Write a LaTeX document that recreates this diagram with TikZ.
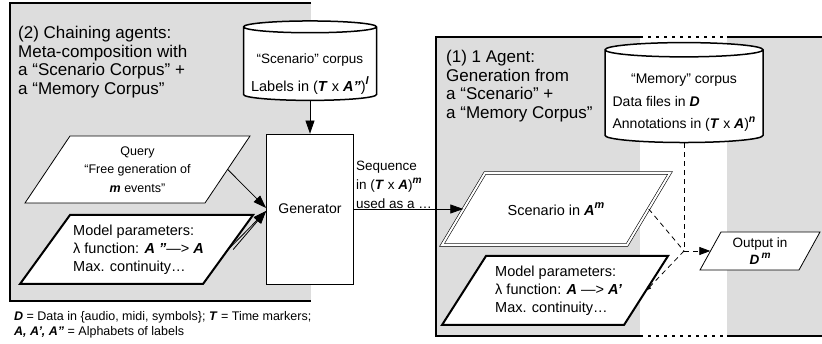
\documentclass[tikz,border=0pt]{standalone}
\usepackage{fontspec}
\setmainfont{Liberation Sans}
\usetikzlibrary{shapes.geometric,arrows.meta}
\definecolor{panelgray}{RGB}{221,221,221}
\newcommand{\bi}[1]{\textbf{\textit{#1}}}
\newcommand{\expo}[1]{\raisebox{0.45em}{\scalebox{0.75}{\bi{#1}}}}
\newcommand{\fs}[2]{\fontsize{#1}{#2}\selectfont}

\begin{document}
\begin{tikzpicture}[x=1pt, y=-1pt,
  every node/.style={inner sep=0pt},
  box/.style={align=center},
  corpus/.style={cylinder, shape border rotate=90, aspect=0.1, draw, line width=1.5pt,
    fill=white, align=center},
  flow/.style={-{Triangle[length=13pt,width=9pt]}, line width=0.8pt},
  link/.style={dash pattern=on 5pt off 4pt, line width=0.8pt}]
  \useasboundingbox (0,0) rectangle (822,344);
  % panels
  \fill[panelgray] (10,3) rectangle (311,301);
  \draw[line width=1.8pt] (311,3) -- (10,3) -- (10,301) -- (311,301);
  \fill[panelgray] (436,37) rectangle (822,336);
  \fill[white] (640,37) rectangle (727,336);
  \draw[line width=1.8pt] (640,37) -- (436,37) -- (436,336) -- (640,336);
  \draw[line width=1.8pt] (727,37) -- (822,37) (727,336) -- (822,336);
  \draw[line width=1.8pt, dash pattern=on 3pt off 5pt] (640,37) -- (727,37) (640,336) -- (727,336);

  % (2) chaining agents
  \node[anchor=north west, align=left, font=\fs{17}{18.7}] (title2) at (18,26)
    {(2) Chaining agents:\\Meta-composition with\\a “Scenario Corpus” +\\a “Memory Corpus”};
  \node[corpus, minimum width=133pt, minimum height=79pt, font=\fs{13.5}{28}] (scorpus) at (310,64)
    {\rule{0pt}{30pt}“Scenario” corpus\\{\fs{14.5}{28}Labels in (\bi{T} x \bi{A”})\expo{l}}};
  \node[draw, fill=white, line width=0.8pt, minimum width=87pt, minimum height=150pt,
    font=\fs{14}{17}] (gen) at (310,209) {Generator};
  \draw[line width=0.8pt, fill=white] (25,203) -- (70,136) -- (250,136) -- (205,203) -- cycle;
  \node[box, minimum width=180pt, minimum height=67pt, font=\fs{12.5}{18.5}] (query) at (137.5,169.5)
    {Query\\“Free generation of\\\bi{m} events"};
  \draw[line width=2pt, fill=white] (20,284) -- (70,215) -- (253,215) -- (203,284) -- cycle;
  \node[minimum width=183pt, minimum height=69pt] (modelB) at (136.5,249.5) {};
  \node[anchor=west, align=left, font=\fs{14.5}{18}] (modelBtext) at (73,249.5)
    {Model parameters:\\λ function: \bi{A ”}—> \bi{A}\\Max. continuity…};
  \node[anchor=south west, align=left, font=\fs{13.5}{19}] (seq) at ([xshift=2pt]gen.east)
    {Sequence\\in (\bi{T} x \bi{A})\expo{m}\\used as a …};

  % (1) one agent
  \node[anchor=north west, align=left, font=\fs{17}{18.7}] (title1) at (446,50)
    {(1) 1 Agent:\\Generation from\\a “Scenario” +\\a “Memory Corpus”};
  \node[corpus, minimum width=158pt, minimum height=83pt, font=\fs{14}{22.5}] (mcorpus) at (684,96.5)
    {\begin{tabular}{@{}l@{}}\multicolumn{1}{@{}c@{}}{\rule{0pt}{26pt}“Memory” corpus}\\Data files in \bi{D}\\
     Annotations in (\bi{T} x \bi{A})\expo{n}\end{tabular}};
  \draw[double, double distance=2pt, line width=0.6pt, fill=white]
    (442,245) -- (485,173) -- (670,173) -- (627,245) -- cycle;
  \node[box, minimum width=185pt, minimum height=72pt, font=\fs{14.5}{18}] (scen) at (556,209)
    {Scenario in \bi{A}\expo{m}};
  \draw[line width=2pt, fill=white] (442,325) -- (486,256) -- (668,256) -- (624,325) -- cycle;
  \node[minimum width=182pt, minimum height=69pt] (modelA) at (555,290.5) {};
  \node[anchor=west, align=left, font=\fs{14.5}{18}] (modelAtext) at (495,290.5)
    {Model parameters:\\λ function: \bi{A} —> \bi{A’}\\Max. continuity…};
  \draw[line width=0.8pt, fill=white] (700,270) -- (721,232) -- (820,232) -- (799,270) -- cycle;
  \node[box, minimum width=99pt, minimum height=38pt, font=\fs{13.5}{17}] (output) at (760,251)
    {Output in\\\bi{D}\,\expo{m}};

  \node[anchor=north west, align=left, font=\fs{12.5}{15}] (legend) at (14,311)
    {\bi{D} = Data in \{audio, midi, symbols\}; \bi{T} = Time markers;\\\bi{A, A’, A”} = Alphabets of labels};

  \coordinate (genq) at ([yshift=1pt]gen.west);
  \coordinate (genm) at ([yshift=-2pt]gen.west);
  \coordinate (jn) at (mcorpus.south |- output.west);

  \draw[flow] (scorpus.south) -- (gen.north);
  \draw[flow] (query.east) -- (genq);
  \draw[flow] (modelB.east) -- (genm);
  \draw[flow] ([xshift=5pt]modelB.east) -- (genm);
  \draw[flow] (gen.east) -- (scen.west);
  \draw[link] (mcorpus.south) -- (jn);
  \draw[link] (scen.east) -- (jn);
  \draw[link, -{Triangle[length=5pt,width=4pt]}] (jn) -- (modelA.east);
  \draw[link, -{Triangle[length=11pt,width=8pt]}] (jn) -- (output.west);
\end{tikzpicture}
\end{document}
